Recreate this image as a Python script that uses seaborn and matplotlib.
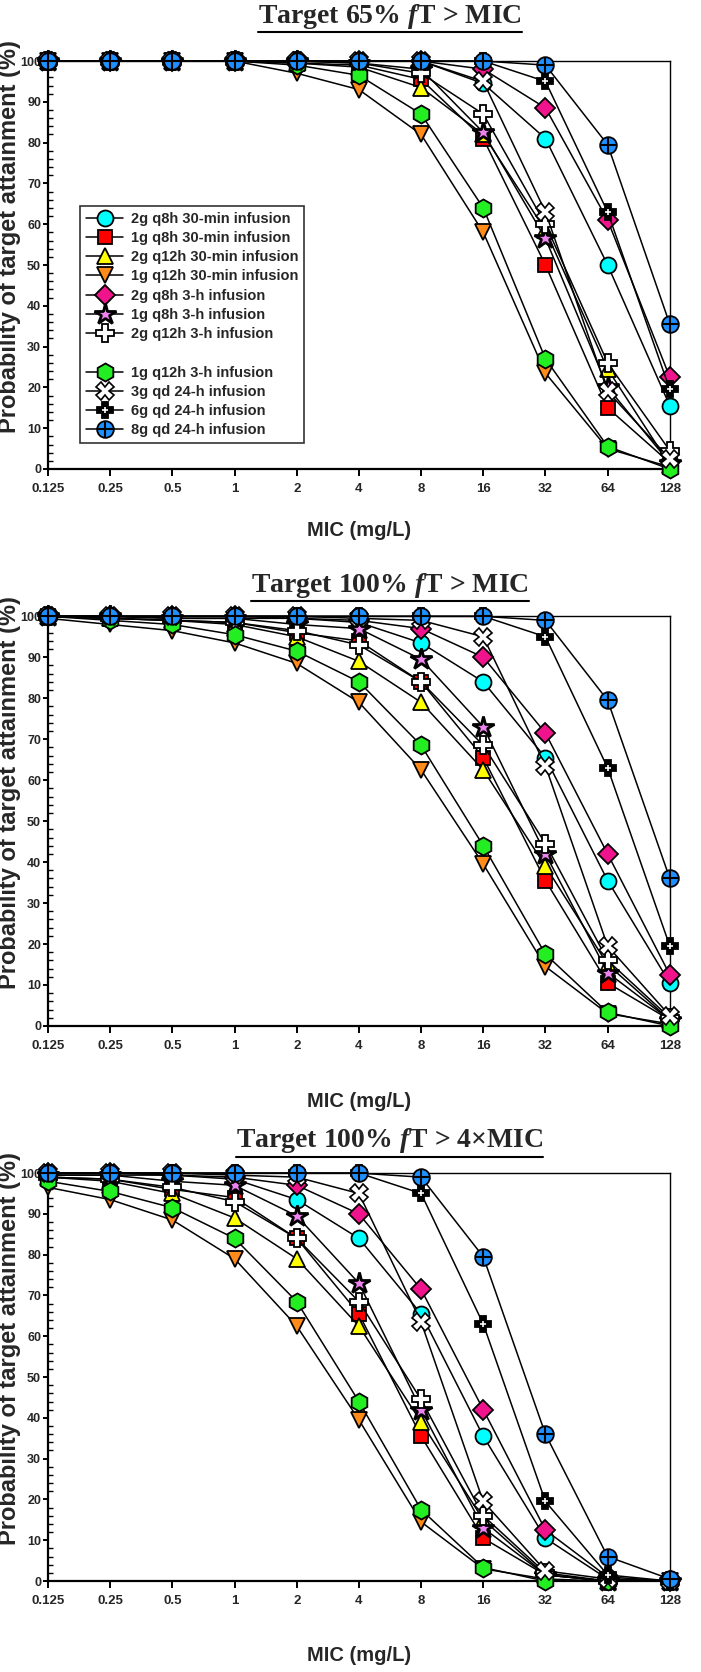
import matplotlib
matplotlib.use("Agg")
import matplotlib.pyplot as plt
import seaborn as sns
from matplotlib.lines import Line2D
from matplotlib.ticker import MultipleLocator, NullLocator, FixedLocator
from matplotlib.legend_handler import HandlerTuple

# MIC grid (mg/L)
mic = [0.125, 0.25, 0.5, 1, 2, 4, 8, 16, 32, 64, 128]
mic_labels = ["0.125", "0.25", "0.5", "1", "2", "4", "8", "16", "32", "64", "128"]

regimens = [
    "2g q8h 30-min infusion",
    "1g q8h 30-min infusion",
    "2g q12h 30-min infusion",
    "1g q12h 30-min infusion",
    "2g q8h 3-h infusion",
    "1g q8h 3-h infusion",
    "2g q12h 3-h infusion",
    "1g q12h 3-h infusion",
    "3g qd 24-h infusion",
    "6g qd 24-h infusion",
    "8g qd 24-h infusion",
]

# probability of target attainment (%), one row per regimen
pta_65 = [
    [100, 100, 100, 100, 100, 100, 100, 94.5, 81, 50, 15.5],
    [100, 100, 100, 100, 99.5, 99, 95.5, 81, 50, 15, 1.5],
    [100, 100, 100, 100, 99.5, 98.5, 93.5, 82, 58.5, 24.5, 1],
    [100, 100, 100, 100, 97, 93, 82, 58, 23.5, 5, 0.5],
    [100, 100, 100, 100, 100, 100, 100, 98, 88.5, 61, 22.5],
    [100, 100, 100, 100, 100, 99.5, 98, 82.5, 56.5, 20, 1.5],
    [100, 100, 100, 100, 100, 99.5, 97, 87, 60, 26, 4.5],
    [100, 100, 100, 100, 99, 96.5, 87, 64, 27, 5.5, 0],
    [100, 100, 100, 100, 100, 100, 100, 95, 63, 19, 2.5],
    [100, 100, 100, 100, 100, 100, 100, 100, 95, 63, 19.5],
    [100, 100, 100, 100, 100, 100, 100, 100, 99, 79.5, 35.5],
]

pta_100 = [
    [100, 100, 99.5, 99.5, 99.5, 98.5, 93.5, 84, 65.5, 35.5, 10.5],
    [100, 99.5, 99, 98.5, 96, 94, 84, 65.5, 35.5, 10.5, 1.5],
    [100, 99.5, 99, 98, 95, 89, 79, 62.5, 39, 15, 1.5],
    [99.5, 98, 96.5, 93.5, 88.5, 79, 62.5, 39.5, 14.5, 3, 0.5],
    [100, 100, 100, 100, 99.5, 99, 97, 90, 71.5, 42, 12.5],
    [100, 100, 99.5, 99.5, 98, 97, 89.5, 73, 42, 13, 1.5],
    [100, 99.5, 99, 98.5, 96.5, 93, 84, 68.5, 44.5, 16, 2],
    [100, 99, 98, 95.5, 91.5, 84, 68.5, 44, 17.5, 3.3, 0],
    [100, 100, 100, 100, 100, 99.5, 99, 95, 63.5, 19.5, 2.5],
    [100, 100, 100, 100, 100, 100, 100, 100, 95, 63, 19.5],
    [100, 100, 100, 100, 100, 100, 100, 100, 99, 79.5, 36],
]

pta_100x4 = [
    [99.5, 99.5, 99.5, 98.5, 93.5, 84, 65.5, 35.5, 10.5, 0.5, 0],
    [99, 98.5, 96, 94, 84, 65.5, 35.5, 10.5, 1.5, 0, 0],
    [99, 98, 95, 89, 79, 62.5, 39, 15, 1.5, 0, 0],
    [96.5, 93.5, 88.5, 79, 62.5, 39.5, 14.5, 3, 0.5, 0, 0],
    [100, 100, 99.5, 99, 97, 90, 71.5, 42, 12.5, 1, 0],
    [99.5, 99.5, 98, 97, 89.5, 73, 42, 13, 1.5, 0, 0],
    [99, 98.5, 96.5, 93, 84, 68.5, 44.5, 16, 2, 0, 0],
    [98, 95.5, 91.5, 84, 68.5, 44, 17.5, 3.3, 0, 0, 0],
    [100, 100, 100, 99.5, 99, 95, 63.5, 19.5, 2.5, 0.5, 0],
    [100, 100, 100, 100, 100, 100, 95, 63, 19.5, 1.5, 0],
    [100, 100, 100, 100, 100, 100, 99, 79.5, 36, 6, 0.5],
]

panel_titles = [
    "Target 65% $f$T > MIC",
    "Target 100% $f$T > MIC",
    "Target 100% $f$T > 4\u00d7MIC",
]
panel_data = [pta_65, pta_100, pta_100x4]

# marker, face colour, size, edge width, optional overlay (marker, colour, size, width)
styles = [
    ("o", "#00FFFF", 11.5, 1.3, None),
    ("s", "#FF0000", 10.5, 1.3, None),
    ("^", "#FFFF00", 12, 1.3, None),
    ("v", "#FF8C1A", 12, 1.3, None),
    ("D", "#F0148C", 10.5, 1.3, None),
    ("*", "#EE82EE", 16, 2.0, None),
    ("P", "white", 12.5, 1.3, None),
    ("h", "#22EE22", 13, 1.3, None),
    ("X", "white", 12.5, 1.2, None),
    ("P", "black", 11.5, 1.3, ("+", "white", 4, 1.2)),
    ("o", "#1E90FF", 12, 1.3, ("+", "black", 12, 1.5)),
]

sns.set_theme(style="ticks")
plt.rcParams["font.family"] = ["Liberation Sans", "DejaVu Sans"]
plt.rcParams["font.weight"] = "bold"
plt.rcParams["mathtext.fontset"] = "custom"
plt.rcParams["mathtext.it"] = "Liberation Serif:italic:bold"
plt.rcParams["mathtext.rm"] = "Liberation Serif:bold"

fig = plt.figure(figsize=(7.01, 16.72), dpi=100)
rects = [
    (0.0685, 0.7195, 0.887, 0.244),
    (0.0685, 0.3864, 0.887, 0.245),
    (0.0685, 0.0544, 0.887, 0.244),
]
title_y = [0.9904, 0.650, 0.3176]
xlabel_pad = [19, 29, 28]

title_texts = []
for k, (rect, data) in enumerate(zip(rects, panel_data)):
    ax = fig.add_axes(rect)
    handles = []
    for i, (vals, (mk, fc, ms, mew, over)) in enumerate(zip(data, styles)):
        sns.lineplot(x=mic, y=vals, ax=ax, color="black", linewidth=1.1,
                     marker=mk, markersize=ms, markerfacecolor=fc,
                     markeredgecolor="black", markeredgewidth=mew,
                     clip_on=False, zorder=3 + 2 * i, legend=False)
        h = ax.lines[-1]
        if over is not None:
            om, oc, oms, omw = over
            o, = ax.plot(mic, vals, linestyle="none", marker=om, markersize=oms,
                         markeredgecolor=oc, markeredgewidth=omw,
                         clip_on=False, zorder=4 + 2 * i)
            h = (h, o)
        handles.append(h)

    ax.set_xscale("log", base=2)
    ax.set_xlim(0.125, 128)
    ax.set_ylim(0, 100)
    ax.xaxis.set_major_locator(FixedLocator(mic))
    ax.xaxis.set_minor_locator(NullLocator())
    ax.set_xticks(mic)
    ax.set_xticklabels(mic_labels)
    ax.yaxis.set_major_locator(MultipleLocator(10))
    ax.yaxis.set_minor_locator(MultipleLocator(2))
    for sp in ["top", "right"]:
        ax.spines[sp].set_linewidth(1.0)
        ax.spines[sp].set_color("black")
    for sp in ["left", "bottom"]:
        ax.spines[sp].set_linewidth(1.6)
        ax.spines[sp].set_color("black")
    ax.tick_params(axis="y", which="major", direction="out", length=3.5,
                   width=1.4, color="black", labelsize=9, pad=1.5)
    ax.tick_params(axis="x", which="major", direction="out", length=5,
                   width=1.4, color="black", labelsize=9.5, pad=5)
    ax.tick_params(axis="y", which="minor", direction="in", length=3.5,
                   width=1.0, color="black")
    ax.tick_params(top=False, right=False, which="both")
    for lab in ax.get_xticklabels() + ax.get_yticklabels():
        lab.set_fontweight("bold")
    ax.set_xlabel("MIC (mg/L)", fontsize=14.5, fontweight="bold",
                  labelpad=xlabel_pad[k])
    ax.set_ylabel("Probability of target attainment (%)", fontsize=17,
                  fontweight="bold")
    ax.yaxis.set_label_coords(-0.043, 0.57)

    t = fig.text(0.556, title_y[k], panel_titles[k], ha="center", va="center",
                 fontsize=20, fontfamily="Liberation Serif", fontweight="bold")
    title_texts.append(t)

    if k == 0:
        blank = Line2D([], [], linestyle="none")
        leg_h = handles[:7] + [blank] + handles[7:]
        leg_l = regimens[:7] + [""] + regimens[7:]
        leg = ax.legend(leg_h, leg_l, loc="upper left",
                        bbox_to_anchor=(0.051, 0.645), borderaxespad=0,
                        handlelength=2.6, handletextpad=0.5, labelspacing=0.36,
                        fancybox=False, frameon=True,
                        handler_map={tuple: HandlerTuple(ndivide=1, pad=0)},
                        prop={"weight": "bold", "size": 10.5})
        leg.get_frame().set_edgecolor("black")
        leg.get_frame().set_linewidth(1.2)
        leg.set_zorder(50)

# underline the titles
fig.canvas.draw()
r = fig.canvas.get_renderer()
W, H = fig.bbox.width, fig.bbox.height
for t in title_texts:
    bb = t.get_window_extent(r)
    y = (bb.y0 - 1.5) / H
    fig.add_artist(Line2D([bb.x0 / W, bb.x1 / W], [y, y], color="black",
                          linewidth=1.5, transform=fig.transFigure))

fig.savefig("out.png", dpi=100)
